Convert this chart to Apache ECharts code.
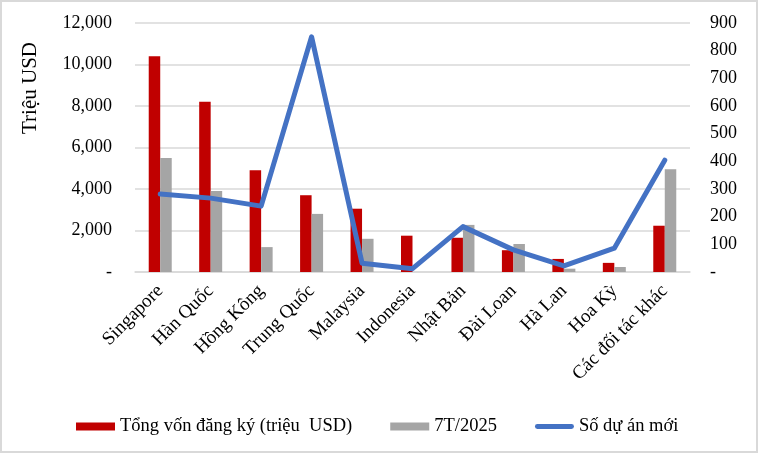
<!DOCTYPE html>
<html>
<head>
<meta charset="utf-8">
<script src="https://cdn.jsdelivr.net/npm/echarts@6/dist/echarts.min.js"></script>
<style>
html,body{margin:0;padding:0;background:#fff;}
#wrap{width:758px;height:453px;box-sizing:border-box;border:2px solid #d9d9d9;position:relative;overflow:hidden;}
#chart{position:absolute;left:-2px;top:-2px;width:758px;height:453px;}
</style>
</head>
<body>
<div id="wrap"><div id="chart"></div></div>
<script>
const categories = ['Singapore','Hàn Quốc','Hồng Kông','Trung Quốc','Malaysia','Indonesia','Nhật Bản','Đài Loan','Hà Lan','Hoa Kỳ','Các đối tác khác'];
const tongVon = [10400, 8200, 4900, 3700, 3050, 1750, 1650, 1050, 630, 440, 2230];
const t7_2025 = [5500, 3900, 1200, 2800, 1600, 0, 2270, 1350, 160, 240, 4950];
const soDuAn = [282, 267, 238, 850, 32, 12, 164, 80, 22, 86, 404];
const seriesNames = ['Tổng vốn đăng ký (triệu  USD)', '7T/2025', 'Số dự án mới'];
const yTitle = 'Triệu USD';

const FONT = '"Liberation Serif", "Times New Roman", serif';
const chart = echarts.init(document.getElementById('chart'));
const fmtLeft = v => v === 0 ? '-' : v.toLocaleString('en-US');
const fmtRight = v => v === 0 ? '-' : String(v);
const lineIcon = 'path://M2.5,0 L37.5,0 A2.5,2.5 0 0 1 37.5,5 L2.5,5 A2.5,2.5 0 0 1 2.5,0 Z';

chart.setOption({
  animation: false,
  textStyle: { fontFamily: FONT, color: '#000' },
  grid: { left: 135, right: 68, top: 23, bottom: 181 },
  graphic: [{
    type: 'text', x: 30, y: 88, rotation: Math.PI / 2,
    style: { text: yTitle, font: '21px ' + FONT, fill: '#000', align: 'center', verticalAlign: 'middle' }
  }],
  legend: {
    left: 71, top: 412, itemWidth: 39, itemHeight: 8, itemGap: 38,
    textStyle: { fontFamily: FONT, fontSize: 18.5, color: '#000' },
    data: [
      { name: seriesNames[0], icon: 'rect' },
      { name: seriesNames[1], icon: 'rect' },
      { name: seriesNames[2], icon: lineIcon, itemStyle: { color: '#4472C4' } }
    ]
  },
  xAxis: {
    type: 'category', data: categories,
    axisLine: { show: true, lineStyle: { color: '#d9d9d9', width: 1.5 } },
    axisTick: { show: false },
    axisLabel: { rotate: 45, interval: 0, fontFamily: FONT, fontSize: 19, color: '#000', margin: 16 }
  },
  yAxis: [{
    type: 'value', min: 0, max: 12000, interval: 2000,
    axisLine: { show: false }, axisTick: { show: false },
    splitLine: { lineStyle: { color: '#d9d9d9', width: 1.5 } },
    axisLabel: { formatter: fmtLeft, fontFamily: FONT, fontSize: 18, color: '#000', margin: 23 }
  }, {
    type: 'value', min: 0, max: 900, interval: 100, position: 'right',
    axisLine: { show: false }, axisTick: { show: false },
    splitLine: { show: false },
    axisLabel: { formatter: fmtRight, fontFamily: FONT, fontSize: 18, color: '#000', margin: 20 }
  }],
  series: [{
    name: seriesNames[0], type: 'bar', data: tongVon, yAxisIndex: 0,
    barWidth: 11.5, barGap: '0%', itemStyle: { color: '#C00000' }
  }, {
    name: seriesNames[1], type: 'bar', data: t7_2025, yAxisIndex: 0,
    barWidth: 11.5, barGap: '0%', itemStyle: { color: '#A5A5A5' }
  }, {
    name: seriesNames[2], type: 'line', data: soDuAn, yAxisIndex: 1,
    symbol: 'none', lineStyle: { color: '#4472C4', width: 5, cap: 'round', join: 'round' },
    itemStyle: { color: '#4472C4' }, z: 5
  }]
});
</script>
</body>
</html>
